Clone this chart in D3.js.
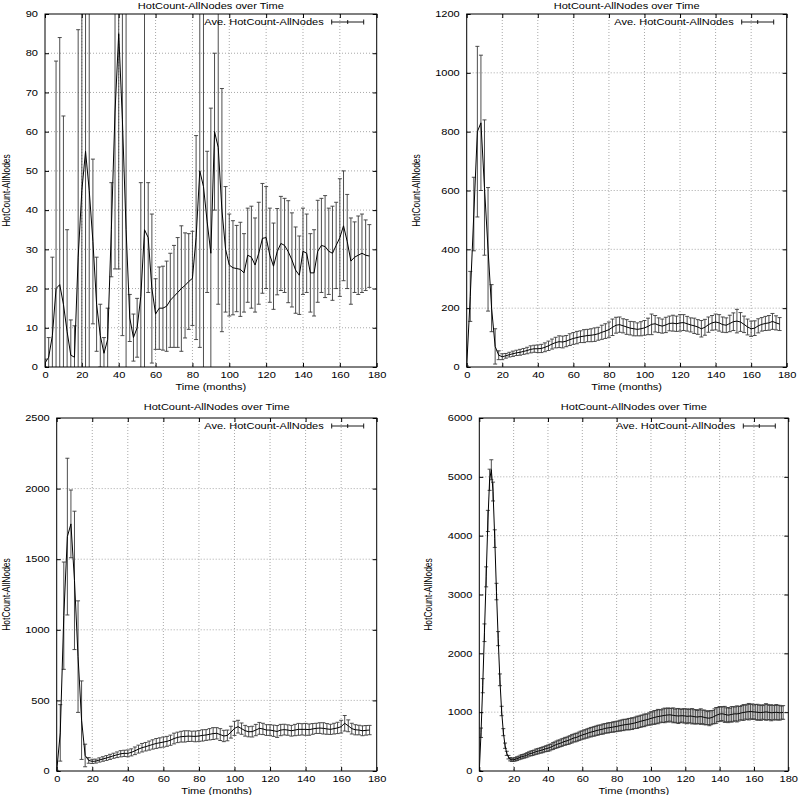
<!DOCTYPE html>
<html>
<head>
<meta charset="utf-8">
<script src="https://cdn.jsdelivr.net/npm/d3@7"></script>
<style>
  body { margin: 0; background: #fff; }
  svg { display: block; }
</style>
</head>
<body>
<svg id="chart" width="800" height="795"></svg>
<script>
// ---- data ----
var xTicks = [0, 20, 40, 60, 80, 100, 120, 140, 160, 180];

var yTicksA = [0, 10, 20, 30, 40, 50, 60, 70, 80, 90];
var yTicksB = [0, 200, 400, 600, 800, 1000, 1200];
var yTicksC = [0, 500, 1000, 1500, 2000, 2500];
var yTicksD = [0, 1000, 2000, 3000, 4000, 5000, 6000];

// sampled every 2 months (panels A-C)
var monthsEvery2 = [0,2,4,6,8,10,12,14,16,18,20,22,24,26,28,30,32,34,36,38,40,42,44,46,48,50,52,54,56,58,
  60,62,64,66,68,70,72,74,76,78,80,82,84,86,88,90,92,94,96,98,100,102,104,106,108,110,112,114,116,118,
  120,122,124,126,128,130,132,134,136,138,140,142,144,146,148,150,152,154,156,158,160,162,164,166,168,170,172,174,176];

// sampled every month (panel D)
var monthsEvery1 = [0,1,2,3,4,5,6,7,8,9,10,11,12,13,14,15,16,17,18,19,20,21,22,23,24,25,26,27,28,29,
  30,31,32,33,34,35,36,37,38,39,40,41,42,43,44,45,46,47,48,49,50,51,52,53,54,55,56,57,58,59,
  60,61,62,63,64,65,66,67,68,69,70,71,72,73,74,75,76,77,78,79,80,81,82,83,84,85,86,87,88,89,
  90,91,92,93,94,95,96,97,98,99,100,101,102,103,104,105,106,107,108,109,110,111,112,113,114,115,116,117,118,119,
  120,121,122,123,124,125,126,127,128,129,130,131,132,133,134,135,136,137,138,139,140,141,142,143,144,145,146,147,148,149,
  150,151,152,153,154,155,156,157,158,159,160,161,162,163,164,165,166,167,168,169,170,171,172,173,174,175,176,177];

var meanA = [1,2.5,8,20,21,16,9,3,2.5,28, 45,55,45,32,16,8,3.5,7,35,65, 85,63,35,12.5,7.5,10,18,35,33,20,
  13.5,15,15,15.5,17,18,19,20,20.8,21.8, 22.6,33,50,46,37,29,60,56,40,30, 26,25.3,25.1,24.9,24,28.5,28,26,29,32.8,
  33,28.5,25.7,29.4,31.5,31,29.4,27.3,24.7,23.4, 29.5,29,24,24,29.5,31,30.7,29.5,29,31, 33,36,32,27,28,28.5,29,28.5,28.3];
var errA = [1,5,20,58,63,48,26,9,8,58, 75,70,62,21,12,8,4,8,12,40, 60,55,60,6,6,7.5,29,60,14,19,
  9,10.5,10.7,11.5,12,13,14,16,13.4,12.2, 12,26,45,50,18,37,20,40,31,16, 13,12,11,12,10,12,13,12,13,14,
  13,12,11,11,12,12,13,12,11,10, 11,10,10,11,13,12,13,11,12,11, 15,14,12,11,9,10,10,9,8];

var meanB = [2,240,520,800,830,610,400,200,70,40, 35,38,42,45,48,50,53,56,60,62, 62,63,67,72,78,83,86,85,88,93,
  97,100,103,105,107,108,110,113,118,122, 127,135,142,144,140,136,132,130,128,130, 133,138,145,147,142,139,143,148,149,147,
  150,151,147,143,140,136,130,135,144,150, 153,150,144,142,148,154,156,153,145,136, 130,132,140,145,148,150,155,150,146];
var errB = [2,85,125,290,230,230,210,80,60,15, 10,8,8,9,9,10,10,11,12,12, 13,14,15,16,17,18,20,20,19,20,
  20,21,20,22,21,22,23,22,24,25, 26,28,27,26,24,25,23,24,22,24, 25,28,35,28,25,24,26,25,27,26,
  28,27,25,24,26,25,28,27,26,25, 27,28,26,25,28,30,40,32,28,27, 26,25,24,23,24,25,27,24,22];

var meanC = [0,270,1100,1660,1750,1350,810,360,110,75, 68,70,78,85,92,100,108,115,122,125, 125,132,143,155,165,172,180,188,195,200,
  205,210,218,230,238,243,245,247,246,245, 248,252,255,260,265,267,258,248,252,275, 302,314,300,285,278,279,290,302,298,290,
  290,285,280,290,293,290,285,290,295,295, 295,293,298,302,304,302,298,295,300,305, 314,338,320,300,292,290,285,288,290];
var errC = [5,200,380,555,240,490,395,278,80,20, 15,14,15,16,17,18,18,20,22,22, 24,25,27,28,30,30,32,33,35,35,
  36,35,36,38,37,38,40,38,36,38, 38,40,38,40,42,40,42,40,38,42, 50,45,40,38,36,38,40,42,40,38,
  38,40,42,40,38,37,38,40,42,40, 42,40,38,36,38,40,38,36,38,40, 45,55,42,38,36,34,35,34,33];

var meanD = [0,650,1450,2350,3300,4250,4950,5120,4750,3950, 3050,2250,1550,1020,660,430,300,235,200,190,
  192,200,210,222,235,245,252,262,275,290, 298,305,315,328,335,345,352,360,372,380,
  388,398,410,425,438,450,462,470,482,495, 505,512,522,535,548,560,568,575,590,602,
  612,622,630,640,652,660,668,675,685,692, 700,705,712,722,728,732,738,742,748,752,
  758,765,770,778,782,788,792,795,800,805, 812,820,828,835,845,852,860,868,875,885,
  895,902,910,918,925,930,935,940,945,950, 952,955,950,946,940,938,935,938,940,938,
  935,930,932,935,930,925,920,918,922,925, 920,912,905,900,898,905,915,930,945,958,
  968,972,970,962,955,950,955,962,968,972, 970,975,982,990,995,1000,1005,1008,1010,1008,
  1005,1002,998,995,992,996,1000,1004,1000,995, 990,992,995,998,994,990,992,995];
var errD = [5,80,120,150,170,180,180,170,160,150, 140,120,100,80,60,45,35,30,28,28,
  28,30,32,30,34,35,33,36,38,36, 40,42,40,44,45,43,46,48,46,50,
  52,55,50,58,56,60,62,58,64,60, 66,62,68,65,70,66,72,68,70,74,
  70,76,72,78,74,80,76,82,78,84, 80,78,85,82,80,86,84,80,88,84,
  88,84,92,88,96,90,88,98,94,100, 92,98,104,96,102,98,106,100,96,104,
  112,104,118,108,122,112,104,116,124,110, 120,108,116,126,112,120,128,114,108,122,
  118,126,112,120,130,116,124,110,120,132, 114,124,120,110,128,118,114,126,134,120,
  128,114,124,136,118,128,112,132,124,118, 136,126,114,124,134,118,128,140,122,132,
  118,128,136,122,132,116,126,140,132,120, 136,126,118,132,122,126,112,116];

var titleText = "HotCount-AllNodes over Time";
var yLabelText = "HotCount-AllNodes";
var xLabelText = "Time (months)";
var legendText = "Ave. HotCount-AllNodes";

// ---- layout ----
var FONT = "'Liberation Sans', Arial, Helvetica, sans-serif";
var FS = 8.5, SX = 1.3;   // gnuplot png looks horizontally stretched

var panels = [
  {id: "a", months: monthsEvery2, means: meanA, errs: errA, yTicks: yTicksA, left: 45, right: 376.7, top: 14, bottom: 367, ylab: 35.5},
  {id: "b", months: monthsEvery2, means: meanB, errs: errB, yTicks: yTicksB, left: 466.7, right: 786.7, top: 14, bottom: 367, ylab: 47},
  {id: "c", months: monthsEvery2, means: meanC, errs: errC, yTicks: yTicksC, left: 56.7, right: 376.7, top: 418, bottom: 771, ylab: 46.5},
  {id: "d", months: monthsEvery1, means: meanD, errs: errD, yTicks: yTicksD, left: 479.3, right: 788.3, top: 418, bottom: 771, ylab: 47.5}
];

var svg = d3.select("#chart");

function stretch(sel) {
  sel.each(function() {
    var t = d3.select(this);
    var x = +t.attr("x") || 0;
    t.attr("x", x / SX).attr("transform", "scale(" + SX + ",1)");
  });
}

function addText(g, x, y, txt, anchor) {
  return g.append("text")
    .attr("transform", "translate(" + x + "," + y + ") scale(" + SX + ",1)")
    .attr("text-anchor", anchor)
    .attr("font-family", FONT)
    .attr("font-size", FS)
    .text(txt);
}

function drawPanel(p) {
  var yMax = p.yTicks[p.yTicks.length - 1];
  var x = d3.scaleLinear().domain([0, 180]).range([p.left, p.right]);
  var y = d3.scaleLinear().domain([0, yMax]).range([p.bottom, p.top]);
  var g = svg.append("g");

  g.append("clipPath").attr("id", "clip-" + p.id)
    .append("rect")
    .attr("x", p.left).attr("y", p.top)
    .attr("width", p.right - p.left).attr("height", p.bottom - p.top);

  // dotted grid
  g.append("g").selectAll("line")
    .data(xTicks.slice(1, -1))
    .enter().append("line")
    .attr("x1", x).attr("x2", x)
    .attr("y1", p.top).attr("y2", p.bottom)
    .attr("stroke", "#a8a8a8").attr("stroke-dasharray", "1,2");
  g.append("g").selectAll("line")
    .data(p.yTicks.slice(1, -1))
    .enter().append("line")
    .attr("x1", p.left).attr("x2", p.right)
    .attr("y1", y).attr("y2", y)
    .attr("stroke", "#a8a8a8").attr("stroke-dasharray", "1,2");

  // ticks on all four sides, pointing inwards
  var axB = g.append("g").attr("transform", "translate(0," + p.bottom + ")")
    .call(d3.axisBottom(x).tickValues(xTicks).tickSize(-4).tickPadding(5).tickFormat(d3.format("d")));
  var axT = g.append("g").attr("transform", "translate(0," + p.top + ")")
    .call(d3.axisTop(x).tickValues(xTicks).tickSize(-4).tickFormat(""));
  var axL = g.append("g").attr("transform", "translate(" + p.left + ",0)")
    .call(d3.axisLeft(y).tickValues(p.yTicks).tickSize(-4).tickPadding(7).tickFormat(d3.format("d")));
  var axR = g.append("g").attr("transform", "translate(" + p.right + ",0)")
    .call(d3.axisRight(y).tickValues(p.yTicks).tickSize(-4).tickFormat(""));
  [axB, axT, axL, axR].forEach(function(a) {
    a.select(".domain").remove();
    a.attr("font-family", FONT).attr("font-size", FS);
  });
  stretch(axB.selectAll("text"));
  stretch(axL.selectAll("text"));

  // error bars + mean line
  var pts = p.months.map(function(m, i) { return {m: m, v: p.means[i], e: p.errs[i]}; });
  var plot = g.append("g").attr("clip-path", "url(#clip-" + p.id + ")");
  var bars = plot.append("g").attr("stroke", "#3a3a3a").attr("stroke-width", 0.9);
  bars.selectAll(".bar").data(pts).enter().append("line")
    .attr("x1", function(d) { return x(d.m); })
    .attr("x2", function(d) { return x(d.m); })
    .attr("y1", function(d) { return y(d.v - d.e); })
    .attr("y2", function(d) { return y(d.v + d.e); });
  bars.selectAll(".capHi").data(pts).enter().append("line")
    .attr("x1", function(d) { return x(d.m) - 2; })
    .attr("x2", function(d) { return x(d.m) + 2; })
    .attr("y1", function(d) { return y(d.v + d.e); })
    .attr("y2", function(d) { return y(d.v + d.e); });
  bars.selectAll(".capLo").data(pts).enter().append("line")
    .attr("x1", function(d) { return x(d.m) - 2; })
    .attr("x2", function(d) { return x(d.m) + 2; })
    .attr("y1", function(d) { return y(d.v - d.e); })
    .attr("y2", function(d) { return y(d.v - d.e); });

  var line = d3.line()
    .x(function(d) { return x(d.m); })
    .y(function(d) { return y(d.v); });
  plot.append("path").datum(pts)
    .attr("d", line)
    .attr("fill", "none").attr("stroke", "#000").attr("stroke-width", 1);

  // border
  g.append("rect")
    .attr("x", p.left).attr("y", p.top)
    .attr("width", p.right - p.left).attr("height", p.bottom - p.top)
    .attr("fill", "none").attr("stroke", "#000").attr("stroke-width", 1);

  // texts
  var cx = (p.left + p.right) / 2;
  addText(g, cx, Math.max(p.top - 8, 8.5), titleText, "middle");
  addText(g, cx, p.bottom + 22.5, xLabelText, "middle");
  g.append("text")
    .attr("transform", "translate(" + (p.left - p.ylab) + "," + ((p.top + p.bottom) / 2) + ") rotate(-90) scale(1," + SX + ")")
    .attr("text-anchor", "middle")
    .attr("font-family", FONT)
    .attr("font-size", FS)
    .text(yLabelText);

  // legend
  var ly = p.top + 8;
  addText(g, p.right - 53, ly + 3.2, legendText, "end");
  var key = g.append("g").attr("stroke", "#000").attr("stroke-width", 0.9);
  var k0 = p.right - 45, k1 = p.right - 13;
  key.append("line").attr("x1", k0).attr("x2", k1).attr("y1", ly).attr("y2", ly);
  [k0, k1].forEach(function(kx) {
    key.append("line").attr("x1", kx).attr("x2", kx).attr("y1", ly - 2.5).attr("y2", ly + 2.5);
  });
  key.append("line").attr("x1", (k0 + k1) / 2).attr("x2", (k0 + k1) / 2).attr("y1", ly - 2).attr("y2", ly + 2);
}

panels.forEach(drawPanel);
</script>
</body>
</html>
